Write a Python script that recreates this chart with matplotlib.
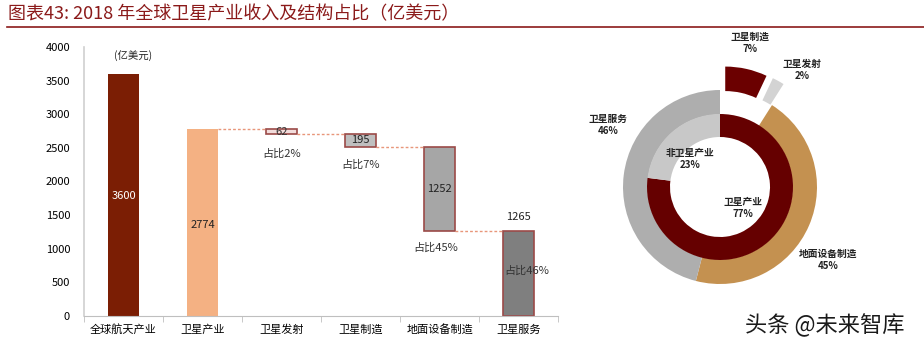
import matplotlib.pyplot as plt

plt.rcParams['font.family'] = ['Noto Sans CJK SC', 'DejaVu Sans']

# bar (waterfall) data
categories = ['全球航天产业', '卫星产业', '卫星发射', '卫星制造', '地面设备制造', '卫星服务']
values = [3600, 2774, 62, 195, 1252, 1265]
shares = ['', '', '占比2%', '占比7%', '占比45%', '占比46%']
bar_colors = ['#7B1E04', '#F4B183', '#F2DCDB', '#BFBFBF', '#A6A6A6', '#7F7F7F']

# donut data
outer_labels = ['卫星制造', '卫星发射', '地面设备制造', '卫星服务']
outer_pct = [7, 2, 45, 46]
outer_colors = ['#6B0000', '#D3D3D3', '#C49150', '#AEAEAE']
inner_labels = ['卫星产业', '非卫星产业']
inner_pct = [77, 23]
inner_colors = ['#650000', '#C8C8C8']

dark_red = '#8B1A1A'
edge_red = '#9B4A48'

fig = plt.figure(figsize=(9.24, 3.48), dpi=100)

# title + rule
fig.text(0.009, 0.958, '图表43: 2018 年全球卫星产业收入及结构占比（亿美元）',
         color=dark_red, fontsize=13, style='italic', va='center', ha='left')
fig.add_artist(plt.Line2D([0.008, 1.0], [0.922, 0.922], color=dark_red, lw=1.2))

# ---- waterfall
ax = fig.add_axes([0.0909, 0.092, 0.513, 0.773])
bottoms = [0, 0]
level = values[1]
for v in values[2:5]:
    level -= v
    bottoms.append(level)
bottoms.append(0)

x = list(range(len(categories)))
w = 0.4
for i in x:
    edge = edge_red if i >= 2 else bar_colors[i]
    ax.bar(i, values[i], bottom=bottoms[i], width=w, color=bar_colors[i],
           edgecolor=edge, linewidth=1.2 if i >= 2 else 0)

# dotted connectors
for i in range(1, 5):
    y = bottoms[i] if i >= 2 else values[i]
    ax.plot([i + w / 2, i + 1 - w / 2], [y, y], ls=(0, (2, 1.5)),
            color='#E8967A', lw=1)

# value labels
ax.text(0, 1790, str(values[0]), color='white', ha='center', va='center', fontsize=8)
ax.text(1, 1360, str(values[1]), color='#222222', ha='center', va='center', fontsize=8)
ax.text(2, bottoms[2] + values[2] / 2, str(values[2]), ha='center', va='center', fontsize=8, color='#333333')
ax.text(3, bottoms[3] + values[3] / 2, str(values[3]), ha='center', va='center', fontsize=8, color='#222222')
ax.text(4, bottoms[4] + values[4] / 2, str(values[4]), ha='center', va='center', fontsize=8, color='#222222')
ax.text(5, 1475, str(values[5]), ha='center', va='center', fontsize=8, color='#222222')
share_pos = {2: (2.0, 2420), 3: (3.0, 2245), 4: (3.95, 1010), 5: (5.1, 670)}
for i, (sx, sy) in share_pos.items():
    ax.text(sx, sy, shares[i], ha='center', va='center', fontsize=8, color='#333333')

ax.text(0.12, 3870, '(亿美元)', fontsize=7.5, ha='center', va='center', color='#222222')

ax.set_xlim(-0.5, 5.5)
ax.set_ylim(0, 4000)
ax.set_yticks(range(0, 4001, 500))
ax.set_xticks(x)
ax.set_xticklabels(categories, fontsize=8)
ax.set_xticks([i - 0.5 for i in range(7)], minor=True)
ax.tick_params(axis='x', which='major', length=0, pad=6)
ax.tick_params(axis='x', which='minor', length=4, color='#BFBFBF')
ax.tick_params(axis='y', length=0, labelsize=8, pad=10)
for s in ['top', 'right']:
    ax.spines[s].set_visible(False)
ax.spines['left'].set_color('#D0D0D0')
ax.spines['bottom'].set_color('#BFBFBF')
ax.spines['left'].set_linewidth(1.2)

# ---- donut
ax2 = fig.add_axes([(720 - 130) / 924, (348 - 187 - 130) / 348, 260 / 924, 260 / 348])
ax2.pie(outer_pct, radius=0.97, colors=outer_colors, startangle=90, counterclock=False,
        explode=[0.24, 0.24, 0, 0], wedgeprops=dict(width=0.245, linewidth=0))
ax2.pie(inner_pct, radius=0.73, colors=inner_colors, startangle=90, counterclock=False,
        wedgeprops=dict(width=0.23, linewidth=0))
ax2.set_xlim(-1.3, 1.3)
ax2.set_ylim(-1.3, 1.3)
ax2.set_aspect('equal')
ax2.axis('off')

lab_pos = {'卫星制造': (0.30, 1.44), '卫星发射': (0.82, 1.17),
           '地面设备制造': (1.08, -0.73), '卫星服务': (-1.12, 0.62)}
for lab, p in zip(outer_labels, outer_pct):
    lx, ly = lab_pos[lab]
    ax2.text(lx, ly, f'{lab}\n{p}%', ha='center', va='center', fontsize=7,
             linespacing=1.3, color='#222222', fontweight='semibold')
in_pos = {'卫星产业': (0.23, -0.21), '非卫星产业': (-0.30, 0.28)}
for lab, p in zip(inner_labels, inner_pct):
    lx, ly = in_pos[lab]
    ax2.text(lx, ly, f'{lab}\n{p}%', ha='center', va='center', fontsize=7,
             linespacing=1.3, color='#222222', fontweight='semibold')

# watermark
fig.text(0.893, 0.065, '头条 @未来智库', fontsize=16, ha='center', va='center',
         color='#1a1a1a')

fig.savefig('out.png', dpi=100)
